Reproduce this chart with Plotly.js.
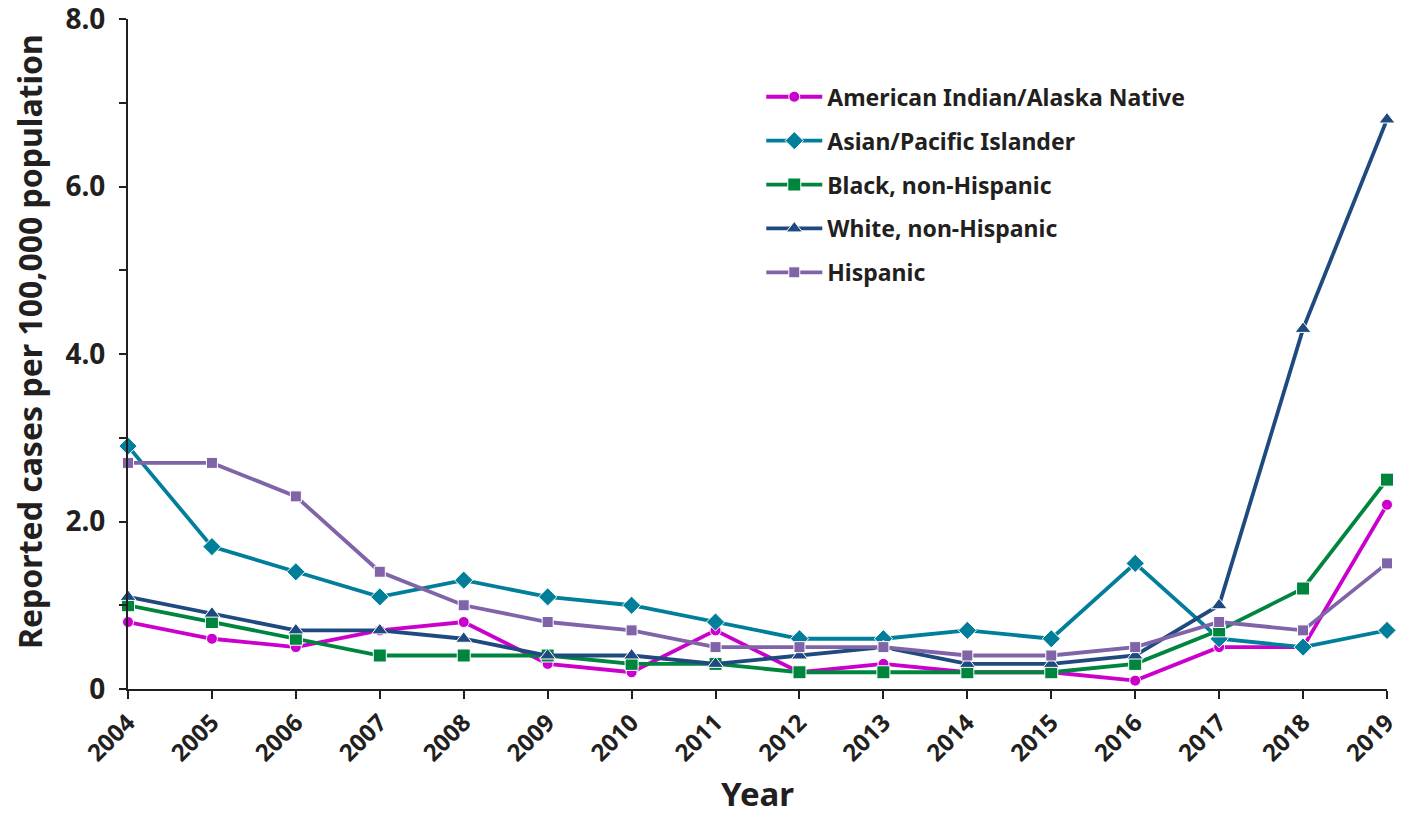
<!DOCTYPE html>
<html>
<head>
<meta charset="utf-8">
<script src="https://cdn.plot.ly/plotly-3.0.1.min.js"></script>
<style>html,body{margin:0;padding:0;background:#fff;}#chart{width:1408px;height:816px;}</style>
</head>
<body>
<div id="chart"></div>
<script>
const years = [2004,2005,2006,2007,2008,2009,2010,2011,2012,2013,2014,2015,2016,2017,2018,2019];
const aian = [0.8,0.6,0.5,0.7,0.8,0.3,0.2,0.7,0.2,0.3,0.2,0.2,0.1,0.5,0.5,2.2];
const asianPI = [2.9,1.7,1.4,1.1,1.3,1.1,1.0,0.8,0.6,0.6,0.7,0.6,1.5,0.6,0.5,0.7];
const blackNH = [1.0,0.8,0.6,0.4,0.4,0.4,0.3,0.3,0.2,0.2,0.2,0.2,0.3,0.7,1.2,2.5];
const whiteNH = [1.1,0.9,0.7,0.7,0.6,0.4,0.4,0.3,0.4,0.5,0.3,0.3,0.4,1.0,4.3,6.8];
const hispanic = [2.7,2.7,2.3,1.4,1.0,0.8,0.7,0.5,0.5,0.5,0.4,0.4,0.5,0.8,0.7,1.5];
const seriesNames = ["American Indian/Alaska Native","Asian/Pacific Islander","Black, non-Hispanic","White, non-Hispanic","Hispanic"];
const yTickVals = [0,1,2,3,4,5,6,7,8];
const yTickText = ["0","","2.0","","4.0","","6.0","","8.0"];
const yTitle = "Reported cases per 100,000 population";
const xTitle = "Year";

const FONT = "Noto Sans, Open Sans, DejaVu Sans, sans-serif";
const INK = "#231F20";
const styles = [
  {color:"#CC00CC", symbol:"circle", size:11},
  {color:"#007E9A", symbol:"diamond", size:14},
  {color:"#00853F", symbol:"square", size:13},
  {color:"#1F4A7F", symbol:"triangle-up", size:14},
  {color:"#8064A8", symbol:"square", size:11}
];
const data = [aian, asianPI, blackNH, whiteNH, hispanic];
const traces = data.map((ys,i)=>({
  x: years, y: ys, name: seriesNames[i], type:"scatter", mode:"lines+markers",
  legendgroup: "g"+i,
  cliponaxis:false,
  line:{color:styles[i].color, width:3.8},
  marker:{color:styles[i].color, symbol:styles[i].symbol, size:styles[i].size, line:{color:"#fff", width:1}}
}));

const layout = {
  width:1408, height:816,
  margin:{l:128, r:21, t:19, b:127},
  paper_bgcolor:"#fff", plot_bgcolor:"#fff",
  font:{family:FONT, color:INK},
  showlegend:true,
  legend:{x:0.503, y:0.916, xanchor:"left", yanchor:"top", bgcolor:"rgba(0,0,0,0)",
    font:{family:FONT, size:23, color:INK, weight:"bold"}, itemwidth:56, tracegroupgap:11},
  xaxis:{
    range:[2004,2019], tickvals:years, ticktext:years.map(String), tickangle:-45,
    showgrid:false, zeroline:false, showline:true, linecolor:INK, linewidth:2,
    ticks:"outside", ticklen:8, tickwidth:2, tickcolor:INK,
    tickfont:{family:FONT, size:24, color:INK, weight:"bold"},
    title:{text:xTitle, font:{family:FONT, size:33, color:INK, weight:"bold"}, standoff:33}
  },
  yaxis:{
    range:[0,8], tickvals:yTickVals, ticktext:yTickText,
    showgrid:false, zeroline:false, showline:true, linecolor:INK, linewidth:2,
    ticks:"outside", ticklen:7, tickwidth:2, tickcolor:INK, ticklabelstandoff:8,
    ticklabeloverflow:"allow",
    tickfont:{family:FONT, size:28, color:INK, weight:"bold"}
  },
  annotations:[{
    text:yTitle, textangle:-90, showarrow:false,
    xref:"paper", yref:"paper", x:-0.0778, y:0.518, xanchor:"center", yanchor:"middle",
    font:{family:FONT, size:32, color:INK, weight:"bold"}
  }]
};
Plotly.newPlot("chart", traces, layout, {displayModeBar:false, staticPlot:true});
</script>
</body>
</html>
